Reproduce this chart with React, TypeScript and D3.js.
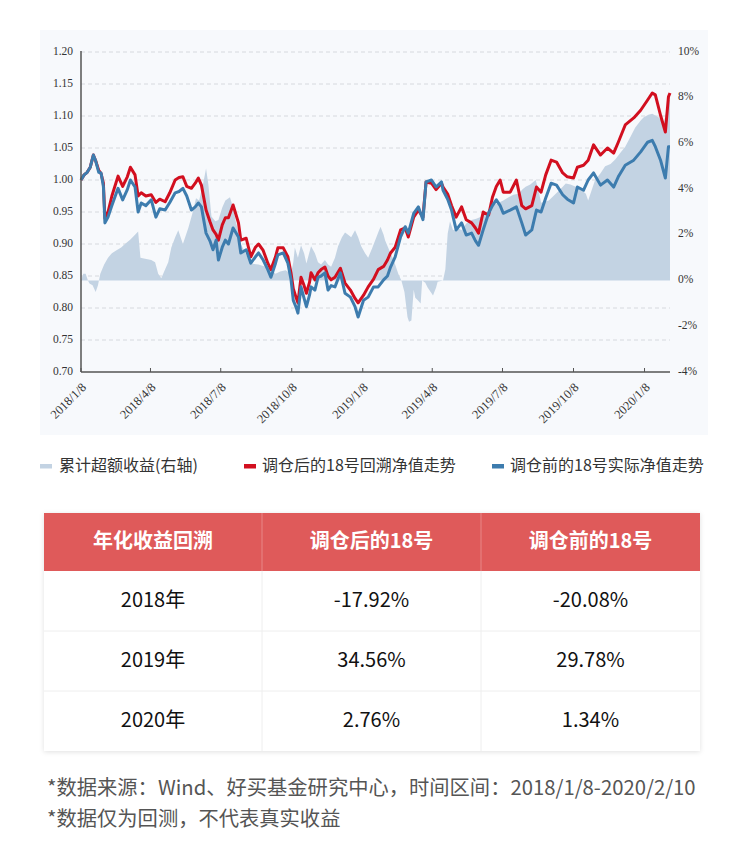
import React from "react";
import * as d3 from "d3";

// ---------- DATA ----------
const lineDates = [
  "2018-01-08","2018-01-12","2018-01-16","2018-01-20","2018-01-24","2018-01-27","2018-01-31","2018-02-03","2018-02-06","2018-02-08",
  "2018-02-12","2018-02-17","2018-02-25","2018-03-03","2018-03-09","2018-03-13","2018-03-19","2018-03-23","2018-03-27","2018-04-02",
  "2018-04-09","2018-04-15","2018-04-20","2018-04-27","2018-05-03","2018-05-10","2018-05-15","2018-05-20","2018-05-25","2018-05-31",
  "2018-06-05","2018-06-09","2018-06-13","2018-06-19","2018-06-24","2018-06-28","2018-07-02","2018-07-05","2018-07-10","2018-07-14",
  "2018-07-18","2018-07-24","2018-07-31","2018-08-03","2018-08-10","2018-08-16","2018-08-22","2018-08-26","2018-09-01","2018-09-07",
  "2018-09-11","2018-09-17","2018-09-20","2018-09-27","2018-10-03","2018-10-07","2018-10-10","2018-10-14","2018-10-16","2018-10-20",
  "2018-10-24","2018-10-27","2018-10-31","2018-11-02","2018-11-07","2018-11-11","2018-11-15","2018-11-20","2018-11-24","2018-11-28",
  "2018-12-03","2018-12-10","2018-12-16","2018-12-23","2018-12-29","2019-01-02","2019-01-09","2019-01-15","2019-01-22","2019-01-28",
  "2019-02-04","2019-02-09","2019-02-13","2019-02-19","2019-02-26","2019-03-04","2019-03-08","2019-03-15","2019-03-21","2019-03-27",
  "2019-03-31","2019-04-07","2019-04-13","2019-04-20","2019-04-22","2019-04-28","2019-05-03","2019-05-09","2019-05-16","2019-05-22",
  "2019-05-29","2019-06-03","2019-06-07","2019-06-13","2019-06-20","2019-06-25","2019-06-30","2019-07-05","2019-07-09","2019-07-18",
  "2019-07-26","2019-08-02","2019-08-07","2019-08-15","2019-08-21","2019-08-27","2019-09-02","2019-09-09","2019-09-16","2019-09-24",
  "2019-09-30","2019-10-08","2019-10-13","2019-10-21","2019-10-27","2019-11-03","2019-11-12","2019-11-21","2019-11-29","2019-12-05",
  "2019-12-14","2019-12-25","2020-01-03","2020-01-12","2020-01-18","2020-01-22","2020-01-29","2020-02-04","2020-02-08","2020-02-10",
];

// 调仓后的18号回溯净值 (red)
const adjustedNav = [
  1.000,1.008,1.012,1.020,1.039,1.030,1.015,1.010,0.995,0.940,
  0.950,0.975,1.006,0.990,1.005,1.020,1.008,0.975,0.980,0.975,
  0.977,0.965,0.970,0.966,0.980,1.000,1.004,1.005,0.990,0.987,
  0.995,1.003,0.992,0.953,0.935,0.922,0.915,0.906,0.930,0.941,
  0.941,0.961,0.933,0.906,0.909,0.880,0.895,0.900,0.890,0.870,
  0.860,0.880,0.894,0.894,0.880,0.855,0.830,0.815,0.808,0.848,
  0.835,0.823,0.840,0.855,0.844,0.855,0.860,0.864,0.850,0.844,
  0.848,0.862,0.839,0.828,0.815,0.808,0.820,0.833,0.845,0.860,
  0.865,0.875,0.886,0.895,0.922,0.925,0.911,0.942,0.953,0.942,
  0.997,0.995,0.985,0.995,0.989,0.978,0.960,0.942,0.958,0.938,
  0.933,0.925,0.917,0.950,0.945,0.973,0.990,1.000,0.981,0.981,
  1.000,0.960,0.955,0.960,0.989,0.981,1.008,1.031,1.028,1.011,
  1.005,1.003,1.020,1.023,1.031,1.055,1.039,1.050,1.042,1.059,
  1.086,1.097,1.109,1.125,1.136,1.133,1.100,1.075,1.130,1.136,
];

// 调仓前的18号实际净值 (blue)
const actualNav = [
  1.000,1.008,1.012,1.020,1.039,1.030,1.012,1.011,0.990,0.933,
  0.942,0.960,0.987,0.969,0.985,1.000,0.989,0.950,0.964,0.960,
  0.969,0.942,0.955,0.953,0.965,0.980,0.982,0.987,0.975,0.953,
  0.958,0.964,0.958,0.917,0.905,0.891,0.906,0.875,0.895,0.906,
  0.900,0.925,0.911,0.886,0.891,0.870,0.880,0.886,0.875,0.860,
  0.848,0.870,0.883,0.886,0.870,0.845,0.812,0.800,0.792,0.833,
  0.815,0.802,0.820,0.833,0.828,0.848,0.850,0.855,0.828,0.835,
  0.833,0.855,0.823,0.817,0.802,0.786,0.812,0.817,0.833,0.833,
  0.844,0.850,0.864,0.880,0.911,0.927,0.917,0.948,0.958,0.938,
  0.997,1.000,0.989,0.997,0.984,0.970,0.953,0.922,0.933,0.914,
  0.917,0.905,0.898,0.922,0.948,0.960,0.969,0.960,0.948,0.953,
  0.958,0.933,0.914,0.922,0.953,0.950,0.972,0.995,0.992,0.977,
  0.970,0.964,0.989,0.984,1.000,1.011,0.992,1.000,0.989,1.005,
  1.023,1.031,1.044,1.059,1.062,1.052,1.030,1.003,1.052,1.052,
];

// 累计超额收益 (right axis, %)
const excessDates = [
  "2018-01-08","2018-01-11","2018-01-14","2018-01-17","2018-01-19","2018-01-23","2018-01-27","2018-01-30","2018-02-02","2018-02-07",
  "2018-02-12","2018-02-17","2018-02-22","2018-03-01","2018-03-06","2018-03-13","2018-03-19","2018-03-23","2018-03-26","2018-04-01",
  "2018-04-09","2018-04-14","2018-04-18","2018-04-22","2018-04-27","2018-05-01","2018-05-05","2018-05-10","2018-05-14","2018-05-20",
  "2018-05-27","2018-06-01","2018-06-06","2018-06-10","2018-06-15","2018-06-19","2018-06-22","2018-06-26","2018-07-01","2018-07-05",
  "2018-07-10","2018-07-14","2018-07-20","2018-07-24","2018-07-27","2018-07-31","2018-08-03","2018-08-09","2018-08-16","2018-08-26",
  "2018-09-04","2018-09-10","2018-09-17","2018-09-23","2018-09-30","2018-10-07","2018-10-10","2018-10-12","2018-10-16","2018-10-20",
  "2018-10-24","2018-10-27","2018-11-02","2018-11-07","2018-11-11","2018-11-15","2018-11-20","2018-11-24","2018-11-28","2018-12-03",
  "2018-12-07","2018-12-12","2018-12-16","2018-12-20","2018-12-24","2018-12-29","2019-01-02","2019-01-06","2019-01-11","2019-01-15",
  "2019-01-20","2019-01-24","2019-01-28","2019-01-31","2019-02-04","2019-02-06","2019-02-13","2019-02-18","2019-02-23","2019-02-27",
  "2019-03-03","2019-03-07","2019-03-09","2019-03-12","2019-03-15","2019-03-17","2019-03-20","2019-03-24","2019-03-26","2019-03-30",
  "2019-04-02","2019-04-06","2019-04-09","2019-04-13","2019-04-15","2019-04-22","2019-04-25","2019-04-28","2019-05-01","2019-05-05",
  "2019-05-11","2019-05-16","2019-05-22","2019-05-29","2019-06-04","2019-06-11","2019-06-20","2019-06-26","2019-07-03","2019-07-09",
  "2019-07-16","2019-07-22","2019-07-29","2019-08-03","2019-08-07","2019-08-13","2019-08-20","2019-08-24","2019-08-27","2019-09-06",
  "2019-09-15","2019-09-21","2019-09-28","2019-10-04","2019-10-11","2019-10-17","2019-10-24","2019-10-27","2019-11-02","2019-11-05",
  "2019-11-12","2019-11-18","2019-11-25","2019-12-01","2019-12-08","2019-12-14","2019-12-21","2019-12-27","2020-01-03","2020-01-07",
  "2020-01-13","2020-01-18","2020-01-26","2020-02-02","2020-02-06","2020-02-08","2020-02-10",
];
const excessValues = [
  0,0.3,0.3,0,-0.13,-0.2,-0.5,-0.2,0.3,0.7,
  1.0,1.2,1.3,1.45,1.6,1.8,2.0,2.15,1.0,0.95,
  0.9,0.8,0.3,0.1,0.5,0.8,1.45,1.9,2.2,1.6,
  2.3,2.9,3.6,3.5,4.2,4.9,4.2,2.8,2.6,2.65,
  3.2,3.5,3.65,3.2,2.65,2.1,1.6,1.2,0.75,0.7,
  0.6,0.5,0.3,0.4,0.45,0.3,0.8,1.45,1.0,1.55,
  1.2,0.75,1.5,1.2,0.8,0.7,0.9,0.7,0.6,1.0,
  1.5,1.9,2.1,2.0,1.9,2.2,1.9,1.5,1.2,1.0,
  1.4,1.75,2.1,2.35,2.0,1.75,1.2,0.8,0.3,0,
  -0.5,-1.6,-1.8,-1.75,-0.4,-0.75,-0.85,-1.0,0,-0.1,
  -0.3,-0.5,-0.65,-0.3,-0.05,0,0.5,2.05,2.6,2.2,
  2.3,2.2,2.5,2.65,2.7,2.8,3.1,3.3,3.4,3.5,
  3.65,3.75,3.8,4.0,4.1,4.2,4.4,3.9,3.4,3.5,
  3.8,4.0,4.25,4.2,4.1,4.0,3.8,3.5,4.1,4.4,
  4.7,5.0,5.1,5.3,5.6,5.85,6.3,6.7,7.0,7.15,
  7.25,7.3,7.15,6.9,7.5,7.9,7.9,
];

const xTickDates = ["2018-01-08","2018-04-08","2018-07-08","2018-10-08","2019-01-08","2019-04-08","2019-07-08","2019-10-08","2020-01-08"];
const xTickLabels = ["2018/1/8","2018/4/8","2018/7/8","2018/10/8","2019/1/8","2019/4/8","2019/7/8","2019/10/8","2020/1/8"];
const leftTicks = [0.70,0.75,0.80,0.85,0.90,0.95,1.00,1.05,1.10,1.15,1.20];
const rightTicks = [-4,-2,0,2,4,6,8,10];
const legendLabels = ["累计超额收益(右轴)","调仓后的18号回溯净值走势","调仓前的18号实际净值走势"];

const tableHeaders = ["年化收益回溯","调仓后的18号","调仓前的18号"];
const tableYears = ["2018年","2019年","2020年"];
const adjustedAnnual = ["-17.92%","34.56%","2.76%"];
const actualAnnual = ["-20.08%","29.78%","1.34%"];

const footnotes = [
  "*数据来源：Wind、好买基金研究中心，时间区间：2018/1/8-2020/2/10",
  "*数据仅为回测，不代表真实收益",
];

// ---------- STYLE ----------
const RED = "#d20f1f";
const BLUE = "#3d7cae";
const AREA = "#c3d3e3";
const HEADER = "#df5a5a";
const SERIF = "'Liberation Serif', 'DejaVu Serif', serif";
const SANS = "'Noto Sans CJK SC', 'Noto Sans', sans-serif";

const parse = d3.timeParse("%Y-%m-%d");

export default function App() {
  const W = 750, H = 867;
  const plot = { left: 81, right: 670, top: 52, bottom: 372 };

  const x = d3.scaleTime()
    .domain([parse("2018-01-08") as Date, parse("2020-02-10") as Date])
    .range([plot.left, plot.right]);
  const yL = d3.scaleLinear().domain([0.70, 1.20]).range([plot.bottom, plot.top]);
  const yR = d3.scaleLinear().domain([-4, 10]).range([plot.bottom, plot.top]);

  const n = Math.min(lineDates.length, adjustedNav.length, actualNav.length);
  const lineData = d3.range(n).map(i => ({ d: parse(lineDates[i]) as Date, a: adjustedNav[i], b: actualNav[i] }));
  const m = Math.min(excessDates.length, excessValues.length);
  const areaData = d3.range(m).map(i => ({ d: parse(excessDates[i]) as Date, v: excessValues[i] }));

  const areaGen = d3.area<{ d: Date; v: number }>()
    .x(p => x(p.d)).y0(yR(0)).y1(p => yR(p.v));
  const redLine = d3.line<{ d: Date; a: number; b: number }>().x(p => x(p.d)).y(p => yL(p.a));
  const blueLine = d3.line<{ d: Date; a: number; b: number }>().x(p => x(p.d)).y(p => yL(p.b));

  const tbl = { left: 44, right: 700, top: 513, headH: 58, rowH: 60 };
  const colEdges = [44, 262, 481, 700];
  const colCenters = [0, 1, 2].map(i => (colEdges[i] + colEdges[i + 1]) / 2);
  const rows = tableYears.map((y, i) => [y, adjustedAnnual[i], actualAnnual[i]]);
  const tblBottom = tbl.top + tbl.headH + tbl.rowH * rows.length;

  const legendItems = [
    { color: AREA, sx: 40, tx: 59 },
    { color: RED, sx: 244, tx: 262 },
    { color: BLUE, sx: 492, tx: 510 },
  ];

  return (
    <svg width={W} height={H} style={{ position: "absolute", left: 0, top: 0, background: "#fff" }}>
      <defs>
        <filter id="shadow" x="-5%" y="-5%" width="110%" height="115%">
          <feDropShadow dx="0" dy="1" stdDeviation="2.5" floodColor="#000" floodOpacity="0.12" />
        </filter>
      </defs>
      {/* chart panel */}
      <rect x={40} y={30} width={668} height={405} fill="#f7f9fc" />

      {/* grid */}
      {leftTicks.filter(t => t > 0.705).map(t => (
        <line key={t} x1={plot.left} x2={plot.right} y1={yL(t)} y2={yL(t)}
          stroke="#d6d9de" strokeWidth={1} strokeDasharray="4,3" />
      ))}

      {/* area */}
      <path d={areaGen(areaData) || ""} fill={AREA} />

      {/* lines */}
      <path d={redLine(lineData) || ""} fill="none" stroke={RED} strokeWidth={3} strokeLinejoin="round" />
      <path d={blueLine(lineData) || ""} fill="none" stroke={BLUE} strokeWidth={3} strokeLinejoin="round" />

      {/* axes */}
      <line x1={plot.left} x2={plot.left} y1={plot.top - 1} y2={plot.bottom} stroke="#555" strokeWidth={1.5} />
      <line x1={plot.left} x2={plot.right} y1={plot.bottom} y2={plot.bottom} stroke="#555" strokeWidth={1.5} />
      {xTickDates.map((d, i) => {
        const tx = x(parse(d) as Date);
        return (
          <g key={d}>
            <line x1={tx} x2={tx} y1={plot.bottom} y2={plot.bottom - 4} stroke="#555" strokeWidth={1} />
            <text transform={`translate(${tx + 4},${plot.bottom + 14}) rotate(-45)`} textAnchor="end"
              dominantBaseline="middle" fontFamily={SERIF} fontSize={12.5} fill="#333">{xTickLabels[i]}</text>
          </g>
        );
      })}
      {leftTicks.map(t => (
        <text key={t} x={73} y={yL(t)} textAnchor="end" dominantBaseline="middle"
          fontFamily={SERIF} fontSize={11.5} fill="#333">{t.toFixed(2)}</text>
      ))}
      {rightTicks.map(t => (
        <text key={t} x={678} y={yR(t)} textAnchor="start" dominantBaseline="middle"
          fontFamily={SERIF} fontSize={11.5} fill="#333">{`${t}%`}</text>
      ))}

      {/* legend */}
      {legendItems.map((it, i) => (
        <g key={i}>
          <rect x={it.sx} y={464} width={12} height={4.5} fill={it.color} />
          <text x={it.tx} y={467} dominantBaseline="middle" fontFamily={SANS} fontSize={16} fill="#333">{legendLabels[i]}</text>
        </g>
      ))}

      {/* table */}
      <rect x={tbl.left} y={tbl.top} width={tbl.right - tbl.left} height={tblBottom - tbl.top} fill="#fff" filter="url(#shadow)" />
      <rect x={tbl.left} y={tbl.top} width={tbl.right - tbl.left} height={tbl.headH} fill={HEADER} />
      {[1, 2].map(i => (
        <line key={`hv${i}`} x1={colEdges[i]} x2={colEdges[i]} y1={tbl.top} y2={tbl.top + tbl.headH} stroke="#e88686" strokeWidth={1} />
      ))}
      {[1, 2].map(i => (
        <line key={`bv${i}`} x1={colEdges[i]} x2={colEdges[i]} y1={tbl.top + tbl.headH} y2={tblBottom} stroke="#eeeeee" strokeWidth={1} />
      ))}
      {[1, 2].map(i => (
        <line key={`rh${i}`} x1={tbl.left} x2={tbl.right} y1={tbl.top + tbl.headH + tbl.rowH * i} y2={tbl.top + tbl.headH + tbl.rowH * i} stroke="#eeeeee" strokeWidth={1} />
      ))}
      {tableHeaders.map((h, i) => (
        <text key={h} x={colCenters[i]} y={tbl.top + tbl.headH / 2 + 1} textAnchor="middle" dominantBaseline="middle"
          fontFamily={SANS} fontSize={20} fontWeight={700} fill="#fff">{h}</text>
      ))}
      {rows.map((r, ri) => r.map((c, ci) => (
        <text key={`${ri}-${ci}`} x={colCenters[ci]} y={tbl.top + tbl.headH + tbl.rowH * ri + tbl.rowH / 2 + 1}
          textAnchor="middle" dominantBaseline="middle" fontFamily={SANS} fontSize={20} fill="#111">{c}</text>
      )))}

      {/* footnotes */}
      {footnotes.map((f, i) => (
        <text key={i} x={47} y={789 + i * 31} dominantBaseline="middle" fontFamily={SANS} fontSize={20.3} fill="#555">{f}</text>
      ))}
    </svg>
  );
}
